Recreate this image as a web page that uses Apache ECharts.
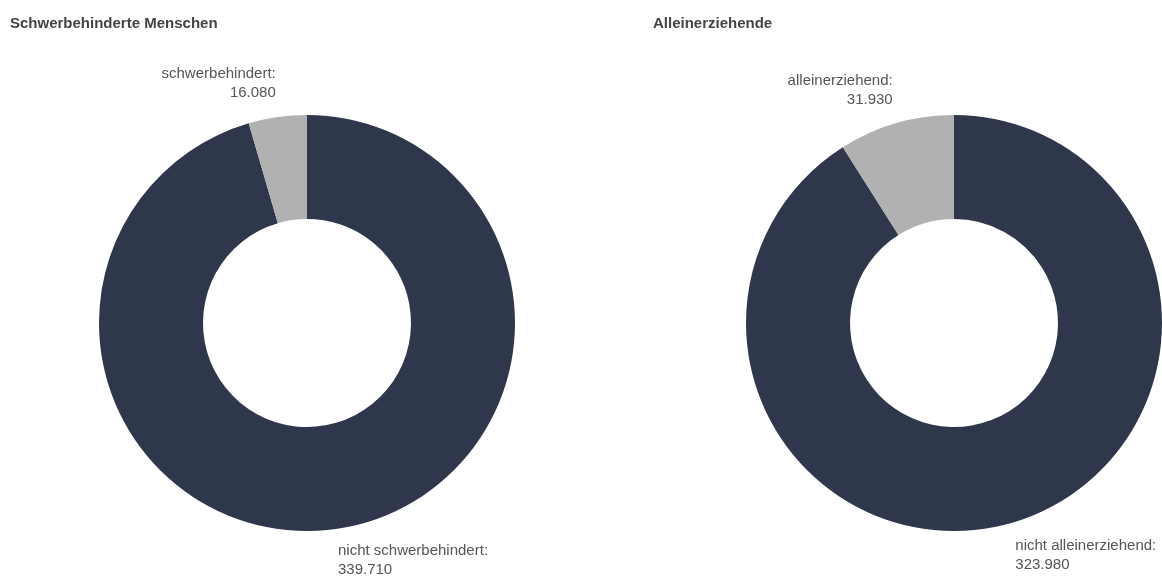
<!DOCTYPE html>
<html>
<head>
<meta charset="utf-8">
<script src="https://cdn.jsdelivr.net/npm/echarts@6/dist/echarts.min.js"></script>
<style>
html,body{margin:0;padding:0;background:#fff;}
#c{width:1162px;height:576px;}
</style>
</head>
<body>
<div id="c"></div>
<script>
var titles = ['Schwerbehinderte Menschen', 'Alleinerziehende'];
var namesLeft = ['nicht schwerbehindert', 'schwerbehindert'];
var valuesLeft = [339710, 16080];
var namesRight = ['nicht alleinerziehend', 'alleinerziehend'];
var valuesRight = [323980, 31930];
var colors = ['#2f374c', '#b1b1b1'];

function fmt(v) {
  return String(v).replace(/\B(?=(\d{3})+(?!\d))/g, '.');
}
function mk(names, values, lens, len2) {
  return names.map(function (n, i) {
    return { name: n, value: values[i], labelLine: { show: false, length: lens[i], length2: len2 } };
  });
}
function pie(center, names, values, lens, len2) {
  return {
    type: 'pie',
    center: center,
    radius: [104, 208],
    startAngle: 90,
    clockwise: true,
    avoidLabelOverlap: false,
    color: colors,
    label: {
      show: true,
      position: 'outside',
      distanceToLabelLine: 0,
      fontFamily: 'Liberation Sans, Arial, sans-serif',
      fontSize: 15,
      lineHeight: 19,
      color: '#555',
      formatter: function (p) { return p.name + ':\n' + fmt(p.value); }
    },
    labelLine: { show: false },
    emphasis: { disabled: true },
    itemStyle: { borderWidth: 0 },
    data: mk(names, values, lens, len2)
  };
}
var chart = echarts.init(document.getElementById('c'));
var tStyle = { fontFamily: 'Liberation Sans, Arial, sans-serif', fontSize: 15, fontWeight: 'bold', color: '#444' };
chart.setOption({
  animation: false,
  title: [
    { text: titles[0], left: 5, top: 11, textStyle: tStyle },
    { text: titles[1], left: 648, top: 11, textStyle: tStyle }
  ],
  series: [
    pie([307, 323], namesLeft, valuesLeft, [32, 34], -3),
    pie([954, 323], namesRight, valuesRight, [34, 34], -6)
  ]
});
</script>
</body>
</html>
